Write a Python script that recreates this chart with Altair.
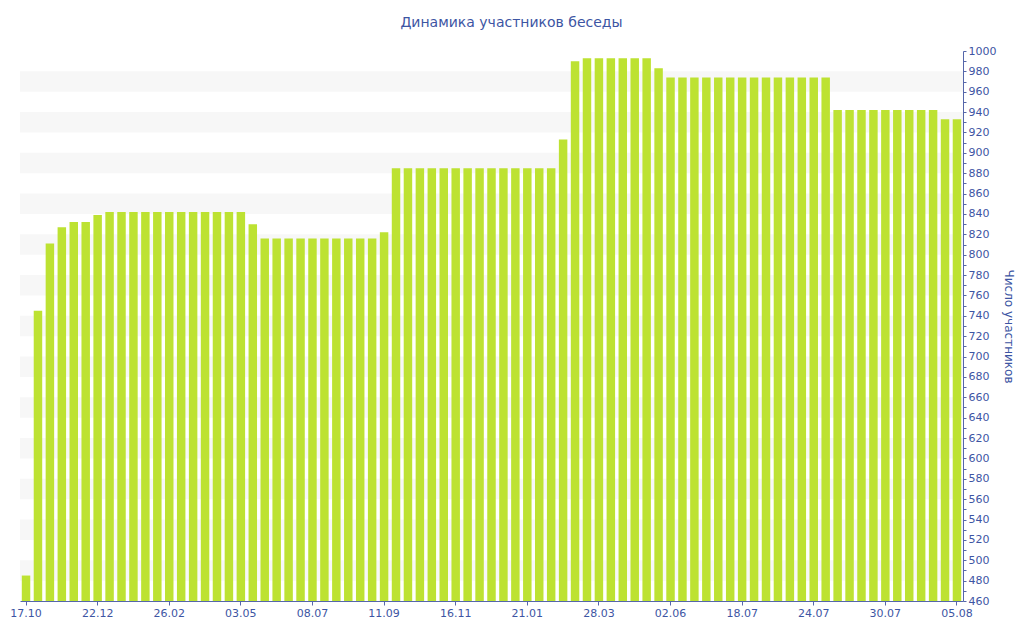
import altair as alt
import pandas as pd

# Number of chat members per period
values = [
    485, 745, 811, 827, 832, 832, 839, 842, 842, 842,
    842, 842, 842, 842, 842, 842, 842, 842, 842, 830,
    816, 816, 816, 816, 816, 816, 816, 816, 816, 816,
    822, 885, 885, 885, 885, 885, 885, 885, 885, 885,
    885, 885, 885, 885, 885, 913, 990, 993, 993, 993,
    993, 993, 993, 983, 974, 974, 974, 974, 974, 974,
    974, 974, 974, 974, 974, 974, 974, 974, 942, 942,
    942, 942, 942, 942, 942, 942, 942, 933, 933,
]
tick_labels = ["17.10", "22.12", "26.02", "03.05", "08.07", "11.09", "16.11",
               "21.01", "28.03", "02.06", "18.07", "24.07", "30.07", "05.08"]
label_every = 6

title_text = "Динамика участников беседы"
y_title = "Число участников"

W, H = 943, 550
blue = "#3d55a3"
axis_blue = "#5566aa"
font = "DejaVu Sans"

df = pd.DataFrame({"i": list(range(len(values))), "v": values})
stripe_starts = list(range(480, 1000, 40))
stripes = pd.DataFrame({"s": stripe_starts, "e": [s + 20 for s in stripe_starts]})

tick_positions = list(range(0, len(values), label_every))
label_js = "[" + ",".join("'" + t + "'" for t in tick_labels) + "]"

yscale = alt.Scale(domain=[460, 1000], zero=False, nice=False)
yaxis = alt.Axis(
    orient="right", values=list(range(460, 1001, 10)), format="d",
    labelExpr="datum.value % 20 == 0 ? datum.label : ''",
    grid=False, tickSize=3, tickColor=axis_blue, domainColor=axis_blue,
    labelColor=blue, labelFont=font, labelFontSize=11, labelPadding=2,
    title=y_title, titleFont=font, titleFontSize=12, titleFontWeight="normal",
    titleColor=blue, titlePadding=6,
)

band = alt.Chart(stripes).mark_rect(color="#f7f7f7").encode(
    y=alt.Y("s:Q", scale=yscale, axis=yaxis),
    y2="e:Q",
    x=alt.value(0),
    x2=alt.value(W),
)

bars = alt.Chart(df).mark_bar(color="#bde232").encode(
    x=alt.X(
        "i:O",
        scale=alt.Scale(paddingInner=0.29, paddingOuter=0.15),
        axis=alt.Axis(
            values=tick_positions, labelAngle=0,
            labelExpr=label_js + "[datum.value / " + str(label_every) + "]",
            title=None, tickSize=4, tickColor=axis_blue, domainColor=axis_blue,
            labelColor=blue, labelFont=font, labelFontSize=11, labelPadding=2,
        ),
    ),
    y=alt.Y("v:Q", scale=yscale, axis=yaxis),
    y2=alt.datum(460),
)

chart = alt.layer(band, bars).properties(
    width=W, height=H,
    title=alt.TitleParams(title_text, font=font, fontSize=14, fontWeight="normal",
                          color=blue, offset=15, dx=20),
    autosize=alt.AutoSizeParams(type="none"),
    padding={"left": 12, "top": 43, "right": 53, "bottom": 31},
).configure_view(stroke=None)

chart.save("out.html", embed_options={"renderer": "svg", "actions": False})
